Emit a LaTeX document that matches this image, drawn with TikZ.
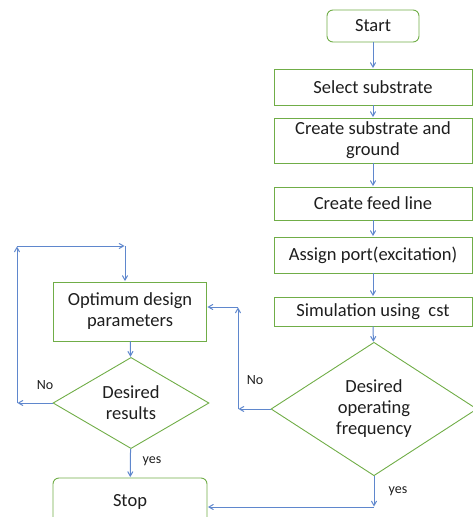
\documentclass[tikz,border=0pt]{standalone}
\usepackage{fontspec}
\setmainfont{Carlito}
\usetikzlibrary{arrows}
\usetikzlibrary{shapes.geometric}
\definecolor{boxgreen}{RGB}{112,173,71}
\definecolor{linkblue}{RGB}{95,135,205}
\definecolor{inkgray}{RGB}{30,30,30}
\tikzset{
    process/.style={draw=boxgreen, line width=0.9pt, minimum width=198pt, align=center, inner sep=0pt},
    terminal/.style={process, rounded corners=6pt},
    decision/.style={draw=boxgreen, line width=0.9pt, diamond, align=center, inner sep=0pt},
    link/.style={draw=linkblue, line width=1pt, ->, >=angle 60, shorten >=0.5pt},
    tag/.style={font=\fontsize{14}{16}\selectfont, text=inkgray}
}

\begin{document}
\begin{tikzpicture}[x=1pt, y=-1pt, font=\fontsize{18.5}{21}\selectfont, text=inkgray]
  \useasboundingbox (0,0) rectangle (473,517);
  \clip (0,0) rectangle (473,517);
  \node[terminal, minimum width=92pt, minimum height=32pt] (start) at (373,26) {Start};
  \node[process, minimum height=36pt] (select) at (373,87) {Select substrate};
  \node[process, minimum height=45pt] (ground) at (373,140.5) {Create substrate and\\ground};
  \node[process, minimum height=33pt] (feed) at (373,203.5) {Create feed line};
  \node[process, minimum height=36pt] (port) at (373,255) {Assign port(excitation)};
  \node[process, minimum height=29pt] (sim) at (373,311.5) {Simulation using\ \ cst};
  \node[decision, minimum width=206pt, minimum height=128pt] (freq) at (374,409) {Desired\\operating\\frequency};
  \node[process, minimum width=153pt, minimum height=59pt] (optimum) at (130,311.5) {Optimum design\\parameters};
  \node[decision, minimum width=156pt, minimum height=88pt] (results) at (131,403) {Desired\\results};
  \node[terminal, minimum width=154pt, minimum height=48pt] (stop) at (130,502) {Stop};
  \node[tag] (nofreq) at (255,380) {No};
  \node[tag] (nores) at (45,385) {No};
  \node[tag] (yesres) at (152,461) {yes};
  \node[tag] (yesfreq) at (398,491) {yes};
  \coordinate (freqleft) at (238,409);
  \coordinate (frequp) at (238,307);
  \coordinate (freqdown) at (374,507);
  \coordinate (resleft) at (17,403);
  \coordinate (resup) at (17,246);
  \coordinate (resturn) at (125,246);
  \draw[link] (start) -- (select);
  \draw[link] (select) -- (ground);
  \draw[link] (ground) -- (feed);
  \draw[link] (feed) -- (port);
  \draw[link] (port) -- (sim);
  \draw[link] (sim) -- (freq);
  \draw[link] (freq.west) -- (freqleft);
  \draw[link] (freqleft) -- (frequp);
  \draw[link] (frequp) -- (frequp -| optimum.east);
  \draw[link] (freq.south) -- (freqdown);
  \draw[link] (freqdown) -- (freqdown -| stop.east);
  \draw[link] (optimum) -- (results);
  \draw[link] (results.west) -- (resleft);
  \draw[link] (resleft) -- (resup);
  \draw[link] (resup) -- (resturn);
  \draw[link] (resturn) -- (resturn |- optimum.north);
  \draw[link] (results) -- (stop);
\end{tikzpicture}
\end{document}
